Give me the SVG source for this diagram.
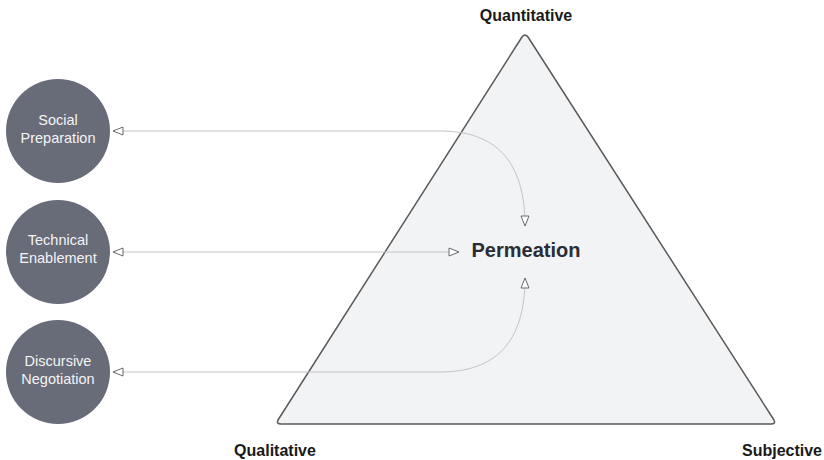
<svg xmlns="http://www.w3.org/2000/svg" width="824" height="460" viewBox="0 0 824 460">
<defs>
<style>
.circ{fill:#686b78;}
.ctext{font-family:"Liberation Sans",Arial,sans-serif;font-size:14.5px;fill:#f4f4f6;text-anchor:middle;}
.lbl{font-family:"Liberation Sans",Arial,sans-serif;font-size:16px;font-weight:bold;fill:#1a1a1a;text-anchor:middle;}
.conn{fill:none;stroke:#c4c4c4;stroke-width:1;}
</style>
<marker id="ah" viewBox="0 0 12 10" refX="11" refY="5" markerWidth="12" markerHeight="10" markerUnits="userSpaceOnUse" orient="auto-start-reverse">
<path d="M1,1 L11,5 L1,9 Z" fill="#ffffff" stroke="#6a6a6a" stroke-width="1"/>
</marker>
</defs>
<rect width="824" height="460" fill="#ffffff"/>
<g id="triangle">
<path d="M522,37 Q525,33 528,37 L774,420 Q776,424 771,424 L281,424 Q276,424 278,420 Z" fill="#f2f3f5" stroke="#5a5a5a" stroke-width="1.5" stroke-linejoin="round"/>
</g>
<g id="connectors">
<path class="conn" d="M113,131 L440,131 C495,131 525,160 525,226" marker-start="url(#ah)" marker-end="url(#ah)"/>
<path class="conn" d="M113,252 L459,252" marker-start="url(#ah)" marker-end="url(#ah)"/>
<path class="conn" d="M113,372 L440,372 C495,372 525,343 525,278" marker-start="url(#ah)" marker-end="url(#ah)"/>
</g>
<g id="social">
<circle class="circ" cx="58" cy="131" r="52"/>
<text class="ctext" x="58" y="125">Social</text>
<text class="ctext" x="58" y="143">Preparation</text>
</g>
<g id="technical">
<circle class="circ" cx="58" cy="252" r="52"/>
<text class="ctext" x="58" y="245">Technical</text>
<text class="ctext" x="58" y="263">Enablement</text>
</g>
<g id="discursive">
<circle class="circ" cx="58" cy="372" r="52"/>
<text class="ctext" x="58" y="366">Discursive</text>
<text class="ctext" x="58" y="384">Negotiation</text>
</g>
<g id="permeation">
<text x="526" y="257" font-family="'Liberation Sans',Arial,sans-serif" font-size="20" font-weight="bold" fill="#2b2d36" text-anchor="middle">Permeation</text>
</g>
<g id="quantitative"><text class="lbl" x="526" y="21">Quantitative</text></g>
<g id="qualitative"><text class="lbl" x="275" y="456">Qualitative</text></g>
<g id="subjective"><text class="lbl" x="782" y="456">Subjective</text></g>
</svg>
